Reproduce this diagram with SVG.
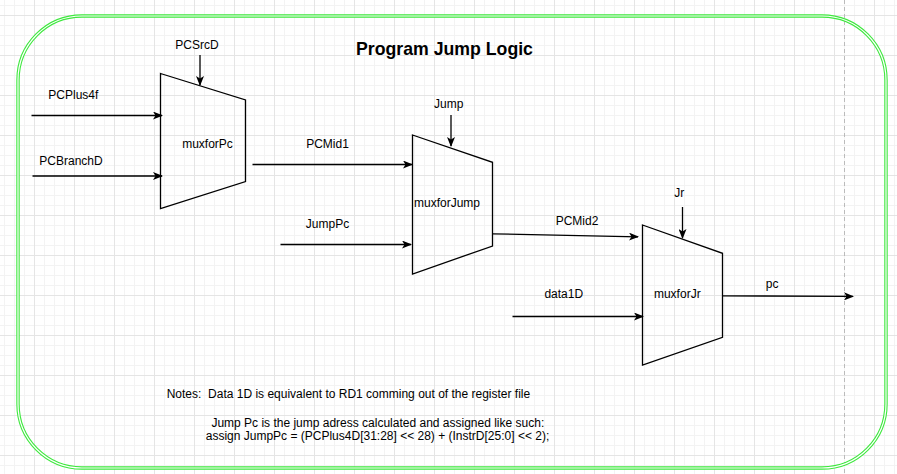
<svg xmlns="http://www.w3.org/2000/svg" width="897" height="474" viewBox="0 0 897 474">
<defs>
<pattern id="minor" patternUnits="userSpaceOnUse" x="4" y="5" width="10" height="10">
<path d="M0.5 0V10M0 0.5H10" stroke="#f3f3f3" stroke-width="1" fill="none"/>
</pattern>
<pattern id="major" patternUnits="userSpaceOnUse" x="34" y="15" width="40" height="40">
<path d="M0.5 0V40M0 0.5H40" stroke="#e5e5e5" stroke-width="1" fill="none"/>
</pattern>
<marker id="arr" viewBox="0 0 10 8" refX="9" refY="4" markerWidth="10" markerHeight="8" markerUnits="userSpaceOnUse" orient="auto">
<path d="M0,0 L10,4 L0,8 L2.5,4 Z" fill="#000"/>
</marker>
<style>
.lbl{font-family:"Liberation Sans",Arial,sans-serif;font-size:12px;fill:#000}
.mux{fill:none;stroke:#000;stroke-width:1.3}
.wire{stroke:#000;stroke-width:1.3;fill:none;marker-end:url(#arr)}
</style>
</defs>
<rect width="897" height="474" fill="#fff"/>
<rect width="897" height="474" fill="url(#minor)"/>
<rect width="897" height="474" fill="url(#major)"/>
<line x1="844.5" y1="0" x2="844.5" y2="474" stroke="#bbb" stroke-width="1" stroke-dasharray="4 3"/>
<g id="frame">
<rect x="18" y="16" width="868" height="452" rx="64" ry="64" fill="none" stroke="#3ee83e" stroke-width="3.4"/>
<rect x="18" y="16" width="868" height="452" rx="64" ry="64" fill="none" stroke="#fff" stroke-width="1.2"/>
</g>
<g id="title">
<text x="444.5" y="55" text-anchor="middle" font-family="'Liberation Sans',Arial,sans-serif" font-size="17.7" font-weight="bold" fill="#000">Program Jump Logic</text>
</g>
<g id="muxforPc">
<polygon class="mux" points="160.5,73.5 245.5,100 245.5,181.5 160.5,208.5"/>
<text class="lbl" x="207.5" y="147.7" text-anchor="middle">muxforPc</text>
</g>
<g id="muxforJump">
<polygon class="mux" points="412.5,135 492.5,162.3 492.5,246 412.5,274"/>
<text class="lbl" x="447" y="206.7" text-anchor="middle">muxforJump</text>
</g>
<g id="muxforJr">
<polygon class="mux" points="642.5,225 722.5,253.3 722.5,337.3 642.5,365"/>
<text class="lbl" x="677.3" y="298.3" text-anchor="middle">muxforJr</text>
</g>
<g id="connectors">
<line class="wire" x1="200" y1="55" x2="200" y2="85"/>
<line class="wire" x1="31.5" y1="115.5" x2="162" y2="115.5"/>
<line class="wire" x1="32.5" y1="176" x2="162" y2="176"/>
<line class="wire" x1="252.5" y1="164.5" x2="412" y2="164.5"/>
<line class="wire" x1="451" y1="115" x2="451" y2="146"/>
<line class="wire" x1="280.5" y1="244.5" x2="411" y2="244.5"/>
<line class="wire" x1="492.5" y1="233.8" x2="638" y2="236.8"/>
<line class="wire" x1="682.5" y1="207" x2="682.5" y2="238"/>
<line class="wire" x1="512.5" y1="316.5" x2="643" y2="316.5"/>
<line class="wire" x1="722.5" y1="295.8" x2="853" y2="296.4"/>
</g>
<g id="labels">
<text class="lbl" x="197" y="48.5" text-anchor="middle">PCSrcD</text>
<text class="lbl" x="48.3" y="99">PCPlus4f</text>
<text class="lbl" x="39.3" y="165">PCBranchD</text>
<text class="lbl" x="327.5" y="147.7" text-anchor="middle">PCMid1</text>
<text class="lbl" x="448.7" y="108.3" text-anchor="middle">Jump</text>
<text class="lbl" x="327.5" y="227.7" text-anchor="middle">JumpPc</text>
<text class="lbl" x="577" y="225" text-anchor="middle">PCMid2</text>
<text class="lbl" x="679.2" y="197.3" text-anchor="middle">Jr</text>
<text class="lbl" x="563.8" y="298.3" text-anchor="middle">data1D</text>
<text class="lbl" x="772.2" y="288.3" text-anchor="middle">pc</text>
</g>
<g id="notes">
<text class="lbl" x="166.7" y="398.3" xml:space="preserve">Notes:  Data 1D is equivalent to RD1 comming out of the register file</text>
<text class="lbl" x="377.8" y="426.7" text-anchor="middle">Jump Pc is the jump adress calculated and assigned like such:</text>
<text class="lbl" x="377.5" y="440" text-anchor="middle">assign JumpPc = (PCPlus4D[31:28] &lt;&lt; 28) + (InstrD[25:0] &lt;&lt; 2);</text>
</g>
</svg>
